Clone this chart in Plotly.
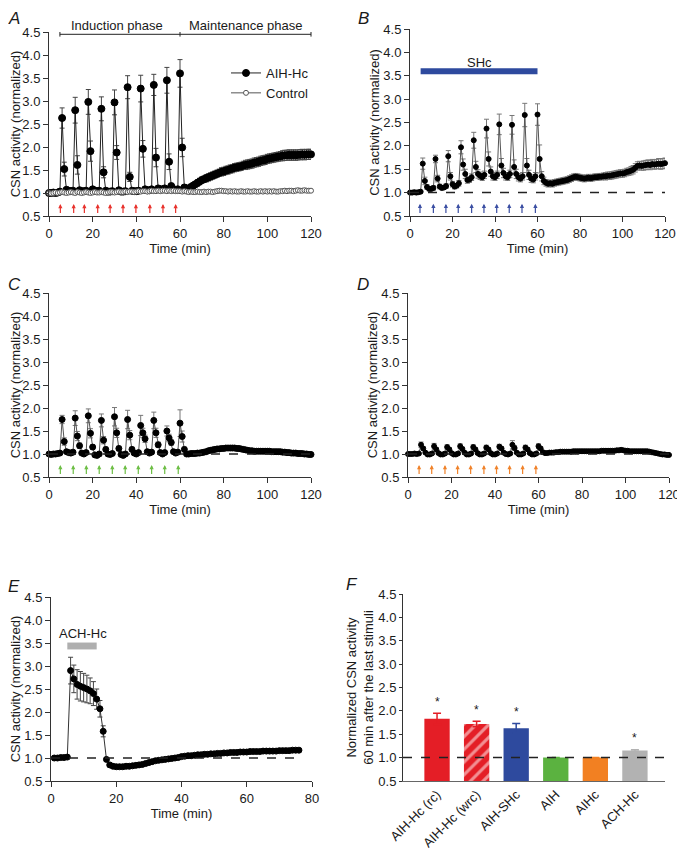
import plotly.graph_objects as go

# the page body keeps its default 8 px margin, so the figure is 8 px smaller
# than the 685x850 window and every pixel position below is shifted by OFF
W, H = 685, 850
OFF = 8
FW, FH = W - OFF, H - OFF
FONT = "Liberation Sans, Arial, sans-serif"

# ---------------- data ----------------
t_min = list(range(0, 121))
t_ach = list(range(1, 77))

# A: AIH-Hc and time control
aih_hc = [1.00, 1.00, 1.01, 1.00, 1.01, 1.03,
          2.63, 1.52, 1.07, 1.05, 1.04, 1.05,
          2.80, 1.61, 1.06, 1.04, 1.04, 1.05,
          2.98, 1.91, 1.08, 1.05, 1.04, 1.05,
          2.83, 1.45, 1.05, 1.03, 1.03, 1.04,
          2.97, 1.88, 1.06, 1.03, 1.03, 1.04,
          3.30, 1.35, 1.05, 1.04, 1.04, 1.05,
          3.27, 1.96, 1.08, 1.06, 1.06, 1.08,
          3.35, 1.77, 1.10, 1.08, 1.08, 1.10,
          3.45, 1.68, 1.15, 1.08, 1.07, 1.08,
          3.60, 1.99, 1.12, 1.10, 1.10, 1.13,
          1.16, 1.19, 1.22, 1.25, 1.28, 1.30, 1.32, 1.34, 1.36, 1.38,
          1.40, 1.42, 1.44, 1.46, 1.47, 1.49, 1.50, 1.52, 1.53, 1.55,
          1.56, 1.57, 1.58, 1.60, 1.61, 1.62, 1.63, 1.64, 1.66, 1.67,
          1.68, 1.70, 1.71, 1.72, 1.74, 1.75, 1.76, 1.77, 1.78, 1.79,
          1.80, 1.81, 1.82, 1.82, 1.83, 1.82, 1.83, 1.82, 1.83, 1.83,
          1.84, 1.83, 1.84, 1.84, 1.84]
aih_hc_err = [0.02, 0.02, 0.02, 0.02, 0.02, 0.03,
              0.22, 0.15, 0.04, 0.03, 0.03, 0.03,
              0.28, 0.20, 0.04, 0.03, 0.03, 0.03,
              0.27, 0.22, 0.04, 0.03, 0.03, 0.03,
              0.26, 0.12, 0.04, 0.03, 0.03, 0.03,
              0.27, 0.15, 0.04, 0.03, 0.03, 0.03,
              0.25, 0.10, 0.04, 0.03, 0.03, 0.03,
              0.29, 0.18, 0.05, 0.04, 0.04, 0.04,
              0.23, 0.20, 0.05, 0.04, 0.04, 0.05,
              0.28, 0.17, 0.06, 0.04, 0.04, 0.05,
              0.30, 0.20, 0.06, 0.05, 0.05, 0.06,
              0.06, 0.06, 0.07, 0.07, 0.07, 0.07, 0.08, 0.08, 0.08, 0.08,
              0.08, 0.08, 0.08, 0.09, 0.09, 0.09, 0.09, 0.09, 0.09, 0.09,
              0.09, 0.09, 0.09, 0.09, 0.10, 0.10, 0.10, 0.10, 0.10, 0.10,
              0.10, 0.10, 0.10, 0.10, 0.10, 0.10, 0.10, 0.10, 0.10, 0.10,
              0.10, 0.11, 0.11, 0.11, 0.11, 0.11, 0.11, 0.11, 0.11, 0.11,
              0.11, 0.11, 0.11, 0.11, 0.11]
control = [1.00, 0.99, 1.00, 1.01, 1.00, 1.01, 1.02, 1.01, 1.00, 1.01,
           1.02, 1.01, 1.00, 1.02, 1.01, 1.00, 1.01, 1.02, 1.01, 1.00,
           1.01, 1.02, 1.01, 1.01, 1.02, 1.01, 1.00, 1.01, 1.02, 1.02,
           1.01, 1.02, 1.03, 1.02, 1.02, 1.03, 1.02, 1.03, 1.03, 1.02,
           1.03, 1.04, 1.03, 1.04, 1.04, 1.03, 1.04, 1.05, 1.04, 1.04,
           1.05, 1.04, 1.05, 1.05, 1.04, 1.05, 1.04, 1.05, 1.04, 1.04,
           1.04, 1.03, 1.04, 1.03, 1.02, 1.03, 1.02, 1.02, 1.03, 1.02,
           1.02, 1.03, 1.02, 1.03, 1.03, 1.02, 1.03, 1.04, 1.05, 1.05,
           1.04, 1.04, 1.03, 1.04, 1.03, 1.04, 1.03, 1.03, 1.04, 1.03,
           1.03, 1.04, 1.03, 1.03, 1.04, 1.03, 1.03, 1.04, 1.03, 1.04,
           1.03, 1.04, 1.03, 1.04, 1.03, 1.03, 1.04, 1.04, 1.05, 1.04,
           1.05, 1.05, 1.04, 1.05, 1.06, 1.05, 1.05, 1.06, 1.05, 1.05,
           1.05]
control_err = [0.02, 0.02, 0.02, 0.02, 0.02, 0.02, 0.03, 0.03, 0.02, 0.03,
               0.03, 0.03, 0.02, 0.03, 0.03, 0.02, 0.03, 0.03, 0.03, 0.02,
               0.03, 0.03, 0.03, 0.03, 0.03, 0.03, 0.02, 0.03, 0.03, 0.03,
               0.03, 0.03, 0.03, 0.03, 0.03, 0.03, 0.03, 0.03, 0.03, 0.03,
               0.03, 0.03, 0.03, 0.03, 0.03, 0.03, 0.03, 0.04, 0.03, 0.03,
               0.04, 0.03, 0.04, 0.04, 0.03, 0.04, 0.03, 0.04, 0.03, 0.03,
               0.03, 0.03, 0.03, 0.03, 0.03, 0.03, 0.03, 0.03, 0.03, 0.03,
               0.03, 0.03, 0.03, 0.03, 0.03, 0.03, 0.03, 0.04, 0.04, 0.04,
               0.03, 0.03, 0.03, 0.03, 0.03, 0.03, 0.03, 0.03, 0.03, 0.03,
               0.03, 0.03, 0.03, 0.03, 0.03, 0.03, 0.03, 0.03, 0.03, 0.03,
               0.03, 0.03, 0.03, 0.03, 0.03, 0.03, 0.03, 0.03, 0.04, 0.03,
               0.04, 0.04, 0.03, 0.04, 0.04, 0.04, 0.04, 0.04, 0.04, 0.04,
               0.04]

# B: AIH-SHc
aih_shc = [1.00, 1.00, 1.01, 1.00, 1.01, 1.02,
           1.62, 1.25, 1.12, 1.08, 1.08, 1.10,
           1.72, 1.30, 1.13, 1.10, 1.11, 1.14,
           1.78, 1.35, 1.18, 1.13, 1.15, 1.20,
           1.97, 1.60, 1.40, 1.27, 1.28, 1.33,
           2.12, 1.55, 1.40, 1.36, 1.33, 1.38,
           2.37, 1.72, 1.45, 1.35, 1.33, 1.38,
           2.46, 1.58, 1.42, 1.35, 1.33, 1.40,
           2.45, 1.55, 1.40, 1.33, 1.30, 1.35,
           2.66, 1.58, 1.38, 1.30, 1.28, 1.35,
           2.67, 1.72, 1.35, 1.25, 1.21, 1.19,
           1.20, 1.19, 1.21, 1.22, 1.23, 1.24, 1.25, 1.26, 1.27, 1.29,
           1.31, 1.33, 1.34, 1.33, 1.32, 1.31, 1.30, 1.31, 1.32, 1.31,
           1.32, 1.33, 1.33, 1.34, 1.34, 1.35, 1.35, 1.36, 1.36, 1.37,
           1.38, 1.39, 1.40, 1.41, 1.41, 1.42, 1.44, 1.45, 1.47, 1.49,
           1.53, 1.57, 1.58, 1.57, 1.58, 1.59, 1.60, 1.59, 1.61, 1.60,
           1.61, 1.62, 1.61, 1.62, 1.63]
aih_shc_err = [0.02, 0.02, 0.02, 0.02, 0.02, 0.02,
               0.12, 0.08, 0.05, 0.04, 0.04, 0.05,
               0.08, 0.07, 0.05, 0.04, 0.04, 0.05,
               0.12, 0.08, 0.06, 0.05, 0.05, 0.06,
               0.14, 0.12, 0.10, 0.07, 0.06, 0.07,
               0.17, 0.12, 0.09, 0.08, 0.07, 0.08,
               0.20, 0.15, 0.10, 0.08, 0.07, 0.08,
               0.22, 0.15, 0.10, 0.08, 0.07, 0.08,
               0.20, 0.15, 0.10, 0.08, 0.07, 0.08,
               0.25, 0.15, 0.10, 0.08, 0.07, 0.08,
               0.23, 0.30, 0.10, 0.08, 0.07, 0.07,
               0.07, 0.07, 0.07, 0.07, 0.07, 0.07, 0.07, 0.07, 0.07, 0.07,
               0.07, 0.07, 0.07, 0.07, 0.07, 0.07, 0.07, 0.07, 0.07, 0.07,
               0.07, 0.07, 0.07, 0.07, 0.07, 0.07, 0.08, 0.08, 0.08, 0.08,
               0.08, 0.08, 0.08, 0.08, 0.08, 0.08, 0.08, 0.08, 0.09, 0.09,
               0.09, 0.09, 0.09, 0.09, 0.10, 0.10, 0.10, 0.10, 0.10, 0.10,
               0.10, 0.11, 0.11, 0.11, 0.11]

# C: AIH
aih = [1.00, 0.99, 1.00, 1.00, 1.01, 1.02,
       1.75, 1.27, 1.05, 1.03, 1.02, 1.04,
       1.78, 1.39, 1.18, 1.02, 1.00, 1.03,
       1.83, 1.45, 1.15, 0.98, 0.97, 1.00,
       1.73, 1.30, 1.10, 1.00, 0.99, 1.01,
       1.81, 1.46, 1.12, 0.99, 0.97, 1.00,
       1.75, 1.41, 1.10, 1.02, 1.00, 1.03,
       1.62, 1.46, 1.33, 1.05, 1.02, 1.04,
       1.73, 1.46, 1.20, 1.03, 1.00, 1.03,
       1.50, 1.35, 1.25, 1.05, 1.02, 1.04,
       1.67, 1.38, 1.10, 1.00, 1.00, 1.01,
       1.01, 1.01, 1.02, 1.02, 1.03, 1.04, 1.05, 1.07, 1.08, 1.09,
       1.10, 1.11, 1.11, 1.12, 1.12, 1.13, 1.13, 1.13, 1.13, 1.13,
       1.12, 1.12, 1.11, 1.10, 1.09, 1.08, 1.07, 1.07, 1.06, 1.06,
       1.06, 1.06, 1.06, 1.06, 1.06, 1.06, 1.05, 1.05, 1.05, 1.05,
       1.05, 1.04, 1.04, 1.03, 1.03, 1.02, 1.02, 1.02, 1.01, 1.01,
       1.01, 1.00, 1.00, 0.99, 0.99]
aih_err = [0.02, 0.02, 0.02, 0.02, 0.02, 0.02,
           0.09, 0.08, 0.04, 0.03, 0.03, 0.03,
           0.16, 0.10, 0.06, 0.03, 0.03, 0.03,
           0.15, 0.10, 0.05, 0.03, 0.03, 0.03,
           0.14, 0.08, 0.05, 0.03, 0.03, 0.03,
           0.20, 0.10, 0.05, 0.03, 0.03, 0.03,
           0.20, 0.10, 0.05, 0.03, 0.03, 0.03,
           0.22, 0.10, 0.08, 0.03, 0.03, 0.03,
           0.18, 0.10, 0.06, 0.03, 0.03, 0.03,
           0.11, 0.08, 0.06, 0.03, 0.03, 0.03,
           0.29, 0.12, 0.05, 0.03, 0.03, 0.03,
           0.02, 0.02, 0.02, 0.02, 0.02, 0.02, 0.02, 0.03, 0.03, 0.03,
           0.03, 0.03, 0.03, 0.03, 0.03, 0.03, 0.03, 0.03, 0.03, 0.03,
           0.03, 0.03, 0.03, 0.03, 0.03, 0.03, 0.03, 0.03, 0.03, 0.03,
           0.03, 0.03, 0.03, 0.03, 0.03, 0.03, 0.03, 0.03, 0.03, 0.03,
           0.03, 0.02, 0.02, 0.02, 0.02, 0.02, 0.02, 0.02, 0.02, 0.02,
           0.02, 0.02, 0.02, 0.02, 0.02]

# D: AIHc
aihc = [1.00, 1.00, 1.00, 1.01, 1.00, 1.01,
        1.20, 1.12, 1.03, 0.99, 0.99, 1.01,
        1.17, 1.10, 1.02, 0.99, 0.99, 1.01,
        1.15, 1.10, 1.02, 0.99, 0.99, 1.01,
        1.17, 1.11, 1.03, 0.99, 0.99, 1.01,
        1.15, 1.10, 1.02, 0.99, 0.99, 1.01,
        1.14, 1.10, 1.02, 0.99, 0.99, 1.01,
        1.16, 1.12, 1.03, 1.00, 0.99, 1.01,
        1.20, 1.13, 1.03, 0.99, 0.99, 1.01,
        1.14, 1.10, 1.02, 0.99, 0.99, 1.01,
        1.17, 1.12, 1.04, 1.02, 1.02, 1.03,
        1.03, 1.03, 1.04, 1.04, 1.05, 1.05, 1.05, 1.05, 1.05, 1.05,
        1.06, 1.06, 1.06, 1.06, 1.06, 1.06, 1.06, 1.06, 1.06, 1.06,
        1.06, 1.06, 1.06, 1.07, 1.07, 1.07, 1.07, 1.07, 1.07, 1.07,
        1.08, 1.08, 1.09, 1.08, 1.07, 1.07, 1.06, 1.06, 1.06, 1.06,
        1.06, 1.06, 1.06, 1.06, 1.06, 1.05, 1.04, 1.03, 1.02, 1.01,
        1.00, 0.99, 0.99, 0.98, 0.98]
aihc_err = [0.01, 0.01, 0.01, 0.01, 0.01, 0.01,
            0.06, 0.04, 0.02, 0.02, 0.02, 0.02,
            0.06, 0.04, 0.02, 0.02, 0.02, 0.02,
            0.05, 0.04, 0.02, 0.02, 0.02, 0.02,
            0.05, 0.04, 0.02, 0.02, 0.02, 0.02,
            0.05, 0.04, 0.02, 0.02, 0.02, 0.02,
            0.05, 0.04, 0.02, 0.02, 0.02, 0.02,
            0.05, 0.04, 0.02, 0.02, 0.02, 0.02,
            0.09, 0.05, 0.02, 0.02, 0.02, 0.02,
            0.05, 0.04, 0.02, 0.02, 0.02, 0.02,
            0.05, 0.04, 0.02, 0.02, 0.02, 0.02,
            0.02, 0.02, 0.02, 0.02, 0.02, 0.02, 0.02, 0.02, 0.02, 0.02,
            0.02, 0.02, 0.02, 0.02, 0.02, 0.02, 0.02, 0.02, 0.02, 0.02,
            0.02, 0.02, 0.02, 0.02, 0.02, 0.02, 0.02, 0.02, 0.02, 0.02,
            0.02, 0.02, 0.02, 0.02, 0.02, 0.02, 0.02, 0.02, 0.02, 0.02,
            0.02, 0.02, 0.02, 0.02, 0.02, 0.02, 0.02, 0.02, 0.02, 0.02,
            0.02, 0.02, 0.02, 0.02, 0.02]

# E: ACH-Hc
ach_hc = [1.00, 1.00, 1.01, 1.01, 1.02,
          2.90, 2.72, 2.60, 2.56, 2.53, 2.50, 2.46, 2.40, 2.28, 2.07, 1.58,
          0.97, 0.85, 0.82, 0.81, 0.81, 0.81, 0.82, 0.82, 0.83, 0.84,
          0.85, 0.86, 0.88, 0.90, 0.92, 0.94, 0.95, 0.96, 0.97, 0.98,
          0.99, 1.00, 1.01, 1.03, 1.04, 1.05, 1.05, 1.06, 1.07, 1.07,
          1.08, 1.08, 1.09, 1.09, 1.10, 1.10, 1.11, 1.11, 1.12, 1.12,
          1.12, 1.13, 1.13, 1.13, 1.14, 1.14, 1.14, 1.14, 1.15, 1.15,
          1.15, 1.15, 1.15, 1.16, 1.16, 1.16, 1.16, 1.17, 1.17, 1.17]
ach_hc_err = [0.02, 0.02, 0.02, 0.02, 0.02,
              0.29, 0.30, 0.32, 0.32, 0.31, 0.30, 0.28, 0.26, 0.22, 0.18, 0.12,
              0.04, 0.04, 0.04, 0.04, 0.04, 0.04, 0.04, 0.04, 0.04, 0.04,
              0.04, 0.04, 0.04, 0.04, 0.04, 0.04, 0.04, 0.04, 0.04, 0.04,
              0.03, 0.03, 0.03, 0.03, 0.03, 0.03, 0.03, 0.03, 0.03, 0.03,
              0.03, 0.03, 0.03, 0.03, 0.03, 0.03, 0.03, 0.03, 0.03, 0.03,
              0.03, 0.03, 0.03, 0.03, 0.03, 0.03, 0.03, 0.03, 0.03, 0.03,
              0.03, 0.03, 0.03, 0.03, 0.03, 0.03, 0.03, 0.03, 0.03, 0.03]

# stimulus times (arrows)
stim_a = [5.2, 11.3, 16.2, 22.3, 28.0, 33.9, 39.8, 46.2, 52.2, 58.0]
stim_b = [4.7, 11.0, 16.9, 22.7, 29.0, 34.8, 40.8, 46.7, 52.7, 59.0]
stim_c = [5.2, 11.1, 17.1, 23.0, 29.0, 34.9, 40.9, 47.0, 53.0, 59.2]
stim_d = [5.1, 10.9, 17.0, 22.8, 28.8, 34.9, 40.7, 46.7, 52.7, 58.8]

# F: summary bars
groups = ["AIH-Hc (rc)", "AIH-Hc (wrc)", "AIH-SHc", "AIH", "AIHc", "ACH-Hc"]
group_vals = [1.83, 1.72, 1.63, 1.00, 1.00, 1.15]
group_errs = [0.12, 0.06, 0.10, 0.00, 0.00, 0.02]
group_sig = [True, True, True, False, False, True]
group_colors = ["#E41E26", "#E41E26", "#2E4A9E", "#5BB240", "#F28022", "#B2B2B2"]


def X(p):
    return (p - OFF) / FW


def Y(p):
    return 1 - (p - OFF) / FH


# ---------------- figure ----------------
fig = go.Figure()

# panel geometry in window pixels (x left, x right, y top, y bottom)
boxes = {
    1: (49, 311, 32, 216),
    2: (410, 665, 29, 216),
    3: (49, 311, 293, 477),
    4: (408, 669, 293, 477),
    5: (51, 312, 597, 781),
    6: (403, 665, 594, 781),
}

AXC = "#333333"
YTITLE = "CSN activity (normalized)"
layout_axes = {}
for i, (x0, x1, y0, y1) in boxes.items():
    s = "" if i == 1 else str(i)
    layout_axes["xaxis" + s] = dict(
        domain=[X(x0), X(x1)], anchor="y" + s, automargin=False,
        showline=True, linecolor=AXC, linewidth=1, ticks="outside",
        ticklen=5, tickcolor=AXC, showgrid=False, zeroline=False,
        tickfont=dict(size=13), title=dict(text="Time (min)", font=dict(size=13), standoff=4),
    )
    layout_axes["yaxis" + s] = dict(
        domain=[Y(y1), Y(y0)], anchor="x" + s, range=[0.5, 4.5],
        dtick=0.5, tick0=0.5, tickformat=".1f", automargin=False,
        showline=True, linecolor=AXC, linewidth=1, ticks="outside",
        ticklen=5, tickcolor=AXC, showgrid=False, zeroline=False,
        tickfont=dict(size=13), title=dict(text=YTITLE, font=dict(size=13), standoff=0),
    )

for s in ["", "2", "3", "4"]:
    layout_axes["xaxis" + s].update(range=[0, 120], dtick=20, tick0=0)
layout_axes["xaxis5"].update(range=[0, 80], dtick=20, tick0=0)
layout_axes["xaxis6"].update(
    type="category", range=[-0.86, 5.76], ticks="", linecolor="#666666",
    tickangle=-45, title=dict(text=""),
)
layout_axes["yaxis6"].update(
    title=dict(text="Normalized CSN activity<br>60 min after the last stimuli",
               font=dict(size=13), standoff=1),
    ticklen=3,
)


def add_series(x, y, err, xa, ya, size, symbol="circle", mcolor="black",
               mline="black", lcolor="#222222", ecolor="#444444", name=None,
               legend=False):
    fig.add_trace(go.Scatter(
        x=x, y=y, mode="lines+markers", name=name, showlegend=legend,
        xaxis=xa, yaxis=ya, cliponaxis=False,
        line=dict(color=lcolor, width=1),
        marker=dict(size=size, symbol=symbol, color=mcolor,
                    line=dict(color=mline, width=1)),
        error_y=dict(type="data", array=err, color=ecolor, thickness=1, width=2.5),
    ))


add_series(t_min, aih_hc, aih_hc_err, "x", "y", 7, name="AIH-Hc", legend=True)
add_series(t_min, control, control_err, "x", "y", 5, mcolor="white",
           mline="#555555", lcolor="#555555", ecolor="#666666",
           name="Control", legend=True)
add_series(t_min, aih_shc, aih_shc_err, "x2", "y2", 5, lcolor="#555555", ecolor="#777777")
add_series(t_min, aih, aih_err, "x3", "y3", 6, lcolor="#555555", ecolor="#777777")
add_series(t_min, aihc, aihc_err, "x4", "y4", 5, lcolor="#555555", ecolor="#777777")
add_series(t_ach, ach_hc, ach_hc_err, "x5", "y5", 6, lcolor="#333333", ecolor="#444444")

for g, v, e, c in zip(groups, group_vals, group_errs, group_colors):
    pattern = dict(shape="/", fgcolor="white", size=9, solidity=0.35) if "wrc" in g else None
    fig.add_trace(go.Bar(
        x=[g], y=[v], xaxis="x6", yaxis="y6", width=0.64, showlegend=False,
        marker=dict(color=c, line=dict(width=0), pattern=pattern),
        error_y=dict(type="data", array=[e], color=c, thickness=1.5, width=4),
    ))

shapes = []
# dashed baseline at 1.0
for s, xr in [("2", (0, 120)), ("3", (0, 120)), ("4", (0, 120)), ("5", (0, 77))]:
    shapes.append(dict(type="line", xref="x" + s, yref="y" + s, x0=xr[0], x1=xr[1],
                       y0=1, y1=1, line=dict(color="#222222", width=1.5, dash="dash")))
shapes.append(dict(type="line", xref="x6 domain", yref="y6", x0=0, x1=1, y0=1, y1=1,
                   line=dict(color="#222222", width=1.5, dash="dash")))

# induction / maintenance bracket (panel A)
shapes.append(dict(type="line", xref="x domain", yref="y domain", x0=5 / 120, x1=1,
                   y0=0.9875, y1=0.9875, line=dict(color="#222222", width=1)))
for tx in [5, 60, 120]:
    shapes.append(dict(type="line", xref="x domain", yref="y domain", x0=tx / 120,
                       x1=tx / 120, y0=0.975, y1=1.0, line=dict(color="#222222", width=1)))

# stimulus bars
shapes.append(dict(type="rect", xref="x2", yref="y2", x0=5, x1=60, y0=3.53, y1=3.66,
                   fillcolor="#2E4A9E", line=dict(width=0)))
shapes.append(dict(type="rect", xref="x5", yref="y5", x0=5, x1=14, y0=3.36, y1=3.51,
                   fillcolor="#AFAFAF", line=dict(width=0)))

ann = []
for s, times, col in [("", stim_a, "#E8322C"), ("2", stim_b, "#3B4FA3"),
                      ("3", stim_c, "#6DBE45"), ("4", stim_d, "#F0822A")]:
    for tx in times:
        ann.append(dict(xref="x" + s, yref="y" + s, axref="x" + s, ayref="y" + s,
                        x=tx, y=0.76, ax=tx, ay=0.53, text="", showarrow=True,
                        arrowhead=2, arrowsize=0.7, arrowwidth=1.2, arrowcolor=col))

for label, cx in [("Induction phase", 117), ("Maintenance phase", 245)]:
    ann.append(dict(xref="paper", yref="paper", x=X(cx), y=Y(26), text=label,
                    xanchor="center", yanchor="middle", showarrow=False,
                    font=dict(size=13)))
ann.append(dict(xref="x2", yref="y2", x=32.5, y=3.78, text="SHc",
                showarrow=False, font=dict(size=13)))
ann.append(dict(xref="x5", yref="y5", x=9.9, y=3.70, text="ACH-Hc",
                showarrow=False, font=dict(size=13)))

for g, v, e, sig in zip(groups, group_vals, group_errs, group_sig):
    if sig:
        ann.append(dict(xref="x6", yref="y6", x=g, y=v + e + 0.05, text="*",
                        yanchor="bottom", showarrow=False, font=dict(size=12)))

for letter, px, py in [("A", 14, 18), ("B", 363, 18), ("C", 14, 284),
                       ("D", 363, 284), ("E", 14, 586), ("F", 352, 584)]:
    ann.append(dict(xref="paper", yref="paper", x=X(px), y=Y(py),
                    text="<i>" + letter + "</i>", showarrow=False,
                    font=dict(size=17), xanchor="center", yanchor="middle"))

fig.update_layout(
    width=FW, height=FH, margin=dict(l=0, r=0, t=0, b=0, autoexpand=False),
    paper_bgcolor="white", plot_bgcolor="white",
    font=dict(family=FONT, size=13, color="#1a1a1a"),
    shapes=shapes, annotations=ann, bargap=0.3,
    legend=dict(x=X(226), y=Y(58), xanchor="left", yanchor="top",
                bgcolor="rgba(0,0,0,0)", font=dict(size=13), itemwidth=30,
                tracegroupgap=0),
    **layout_axes,
)

fig.write_html("out.html")
